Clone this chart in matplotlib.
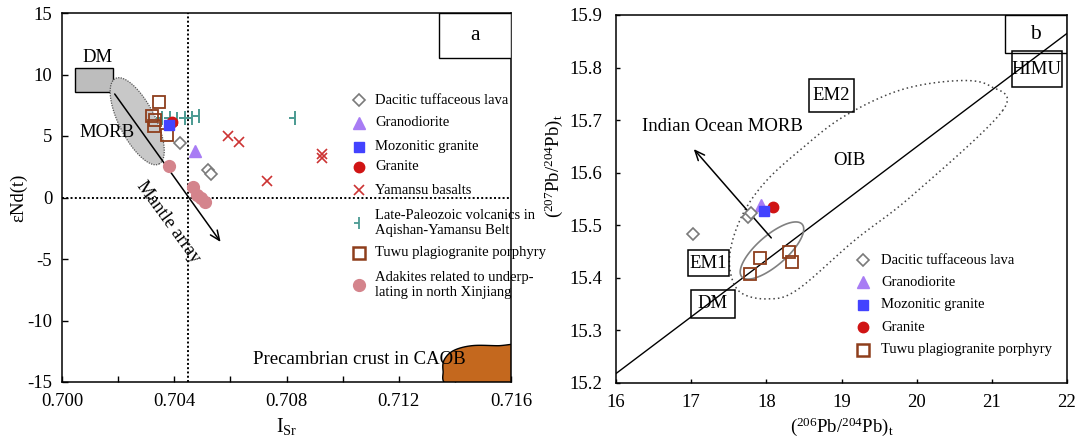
import numpy as np
import matplotlib
matplotlib.use("Agg")
import matplotlib.pyplot as plt
from matplotlib.path import Path
from matplotlib.patches import Polygon, Rectangle

plt.rcParams['font.family'] = ['Liberation Serif', 'DejaVu Serif']
plt.rcParams['mathtext.fontset'] = 'custom'
plt.rcParams['mathtext.rm'] = 'Liberation Serif'
plt.rcParams['mathtext.it'] = 'Liberation Serif:italic'
plt.rcParams['axes.unicode_minus'] = False

# ---------------- Panel a data ----------------
dac_a_isr = [0.70421, 0.70522, 0.70530]
dac_a_eps = [4.4, 2.2, 1.9]
gd_a_isr = [0.70475]
gd_a_eps = [3.8]
mz_a_isr = [0.70382]
mz_a_eps = [5.9]
gr_a_isr = [0.70393]
gr_a_eps = [6.1]
yam_isr = [0.70593, 0.70632, 0.70729, 0.70925, 0.70928]
yam_eps = [5.0, 4.5, 1.35, 3.2, 3.5]
lp_isr = [0.70357, 0.70386, 0.70411, 0.70439, 0.70464, 0.70489, 0.70829]
lp_eps = [6.5, 6.5, 6.4, 6.5, 6.5, 6.6, 6.5]
tuwu_a_isr = [0.70346, 0.70322, 0.70332, 0.70329, 0.70375]
tuwu_a_eps = [7.75, 6.6, 6.3, 5.8, 5.05]
adk_isr = [0.70380, 0.70468, 0.70482, 0.70495, 0.70508]
adk_eps = [2.55, 0.85, 0.2, 0.0, -0.35]

dm_box_a = [0.70046, 8.6, 0.70182, 10.5]          # x0, y0, x1, y1
morb_center = [0.70268, 6.2]
morb_axes_px = [48, 18, -63]                        # semi-major, semi-minor, angle
mantle_start = [0.70182, 8.6]
mantle_end = [0.70571, -3.8]
crust_x = [0.7168, 0.7155, 0.7146, 0.71395, 0.71362, 0.71358, 0.71372, 0.7150, 0.7168]
crust_y = [-12.15, -12.05, -12.05, -12.45, -13.2, -14.1, -15.2, -15.6, -15.5]

# ---------------- Panel b data ----------------
dac_b_x = [17.03, 17.76, 17.80]
dac_b_y = [15.484, 15.516, 15.524]
gd_b_x = [17.93]
gd_b_y = [15.539]
mz_b_x = [17.97]
mz_b_y = [15.527]
gr_b_x = [18.09]
gr_b_y = [15.534]
tuwu_b_x = [17.78, 17.92, 18.30, 18.34]
tuwu_b_y = [15.408, 15.438, 15.449, 15.430]

nhrl_x = [16, 22]
nhrl_y = [15.218, 15.865]
oib_x = [21.148, 19.951, 19.18, 18.408, 18.009, 17.650, 17.517, 17.543, 17.716,
         18.009, 18.448, 19.020, 19.778, 20.536, 20.975]
oib_y = [15.719, 15.558, 15.472, 15.377, 15.360, 15.373, 15.415, 15.467, 15.529,
         15.586, 15.643, 15.706, 15.757, 15.775, 15.765]
tuwu_field_center = [18.075, 15.452]
tuwu_field_px = [40, 15, 41]
iom_start = [18.09, 15.472]
iom_end = [17.01, 15.649]
reservoirs = ['EM2', 'HIMU', 'EM1', 'DM']
res_x = [18.867, 21.60, 17.23, 17.29]
res_y = [15.747, 15.797, 15.428, 15.351]
res_w = [0.60, 0.665, 0.545, 0.585]
res_h = [0.063, 0.068, 0.050, 0.053]

# colours
C_DAC = '#7a7a7a'
C_GD = '#a87cf4'
C_MZ = '#4343ff'
C_GR = '#d01414'
C_YAM = '#cc3333'
C_LP = '#4a9a92'
C_TUWU = '#8e3e1c'
C_ADK = '#d4848c'
C_CRUST = '#c4681e'

tee = Path([(-0.6, 0), (0, 0), (0, -0.7), (0, 0.7)],
           [Path.MOVETO, Path.LINETO, Path.MOVETO, Path.LINETO])


def closed_spline(xs, ys, n=25):
    P = np.column_stack([xs, ys]).astype(float)
    N = len(P)
    out = []
    t = np.linspace(0, 1, n, endpoint=False)[:, None]
    for i in range(N):
        p0, p1, p2, p3 = P[i - 1], P[i], P[(i + 1) % N], P[(i + 2) % N]
        out.append(0.5 * (2 * p1 + (-p0 + p2) * t + (2 * p0 - 5 * p1 + 4 * p2 - p3) * t ** 2
                          + (-p0 + 3 * p1 - 3 * p2 + p3) * t ** 3))
    return np.vstack(out)


def display_ellipse(ax, center, a, b, ang):
    c = ax.transData.transform(center)
    t = np.linspace(0, 2 * np.pi, 200)
    th = np.radians(ang)
    x = a * np.cos(t)
    y = b * np.sin(t)
    pts = np.column_stack([c[0] + x * np.cos(th) - y * np.sin(th),
                           c[1] + x * np.sin(th) + y * np.cos(th)])
    return ax.transData.inverted().transform(pts)


fig = plt.figure(figsize=(10.77, 4.45), dpi=100)
FS_BIG = 13.5
FS_LEG = 10.5

# =============== Panel a ===============
ax = fig.add_axes([62 / 1077, 1 - 382 / 445, 449 / 1077, 369 / 445])
ax.set_xlim(0.700, 0.716)
ax.set_ylim(-15, 15)
ax.set_xticks([0.700, 0.704, 0.708, 0.712, 0.716])
ax.set_xticklabels(['0.700', '0.704', '0.708', '0.712', '0.716'])
ax.set_xticks(np.arange(0.702, 0.716, 0.004), minor=True)
ax.set_yticks([-15, -10, -5, 0, 5, 10, 15])
ax.tick_params(which='both', direction='in', length=4.5, width=1, labelsize=FS_BIG)
ax.tick_params(axis='x', pad=8)
ax.tick_params(axis='y', pad=7)
for s in ax.spines.values():
    s.set_linewidth(1.1)
ax.set_xlabel(r'$\mathrm{I_{Sr}}$', fontsize=FS_BIG + 1, labelpad=4)
ax.set_ylabel('εNd(t)', fontsize=FS_BIG)
ax.yaxis.set_label_coords(-0.078, 0.5)

ax.axvline(0.7045, color='black', ls=(0, (1, 1.2)), lw=1.4, zorder=1)
ax.axhline(0, color='black', ls=(0, (1, 1.2)), lw=1.4, zorder=1)

ax.add_patch(Rectangle((dm_box_a[0], dm_box_a[1]), dm_box_a[2] - dm_box_a[0],
                       dm_box_a[3] - dm_box_a[1], facecolor='#bdbdbd',
                       edgecolor='black', lw=1, zorder=2))
ax.text(0.70125, 11.4, 'DM', fontsize=FS_BIG, ha='center', va='center')

ell = display_ellipse(ax, morb_center, *morb_axes_px)
ax.add_patch(Polygon(ell, closed=True, facecolor='#c8c8c8', edgecolor='#555555',
                     lw=0.9, ls=(0, (1, 1)), zorder=2))
ax.text(0.7016, 5.3, 'MORB', fontsize=FS_BIG, ha='center', va='center', zorder=3)

ax.annotate('', xy=mantle_end, xytext=mantle_start,
            arrowprops=dict(arrowstyle='->,head_length=0.7,head_width=0.3',
                            color='black', lw=1.1), zorder=3)
ax.text(0.70378, -2.0, 'Mantle array', fontsize=FS_BIG, rotation=-54,
        ha='center', va='center', rotation_mode='anchor')

crust = closed_spline(crust_x, crust_y)
ax.add_patch(Polygon(crust, closed=True, facecolor=C_CRUST, edgecolor='black',
                     lw=1, zorder=2, clip_on=True))
ax.text(0.7106, -13.2, 'Precambrian crust in CAOB', fontsize=FS_BIG,
        ha='center', va='center', zorder=4)

# points
ax.plot(adk_isr, adk_eps, 'o', ms=8.5, color=C_ADK, mec=C_ADK, zorder=4)
ax.plot(lp_isr, lp_eps, marker=tee, ls='none', ms=10.5, color=C_LP, mew=1.4, zorder=4)
ax.plot(tuwu_a_isr, tuwu_a_eps, 's', ms=8.5, mfc='none', mec=C_TUWU, mew=1.3, zorder=5)
ax.plot(gr_a_isr, gr_a_eps, 'o', ms=7.5, color=C_GR, zorder=5)
ax.plot(mz_a_isr, mz_a_eps, 's', ms=7.5, color=C_MZ, zorder=6)
ax.plot(gd_a_isr, gd_a_eps, '^', ms=8.5, color=C_GD, zorder=5)
ax.plot(dac_a_isr, dac_a_eps, 'D', ms=6, mfc='white', mec=C_DAC, mew=1.2, zorder=5)
ax.plot(yam_isr, yam_eps, 'x', ms=7.5, color=C_YAM, mew=1.2, zorder=5)

# 'a' label box
ax.add_patch(Rectangle((0.84, 0.878), 0.16, 0.122, transform=ax.transAxes,
                       facecolor='white', edgecolor='black', lw=1, zorder=6))
ax.text(0.92, 0.939, 'a', transform=ax.transAxes, fontsize=FS_BIG + 2,
        ha='center', va='center', zorder=7)

# legend a (manual)
mx, tx = 0.661, 0.697
leg_a = [
    (0.764, dict(marker='D', ms=6, mfc='white', mec=C_DAC, mew=1.2), 'Dacitic tuffaceous lava'),
    (0.702, dict(marker='^', ms=8.5, color=C_GD), 'Granodiorite'),
    (0.637, dict(marker='s', ms=7.5, color=C_MZ), 'Mozonitic granite'),
    (0.583, dict(marker='o', ms=7.5, color=C_GR), 'Granite'),
    (0.520, dict(marker='x', ms=7.5, color=C_YAM, mew=1.2), 'Yamansu basalts'),
    (0.431, dict(marker=tee, ms=9, color=C_LP, mew=1.3), 'Late-Paleozoic volcanics in\nAqishan-Yamansu Belt'),
    (0.350, dict(marker='s', ms=8.5, mfc='none', mec=C_TUWU, mew=1.8), 'Tuwu plagiogranite porphyry'),
    (0.263, dict(marker='o', ms=8.5, color=C_ADK), 'Adakites related to underp-\nlating in north Xinjiang'),
]
for y, kw, lab in leg_a:
    ax.plot([mx], [y], transform=ax.transAxes, ls='none', clip_on=False, zorder=6, **kw)
    ax.text(tx, y, lab, transform=ax.transAxes, fontsize=FS_LEG, ha='left',
            va='center', linespacing=1.15, zorder=6)

# =============== Panel b ===============
bx = fig.add_axes([616 / 1077, 1 - 383 / 445, 451 / 1077, 368 / 445])
bx.set_xlim(16, 22)
bx.set_ylim(15.2, 15.9)
bx.set_xticks(range(16, 23))
bx.set_yticks(np.round(np.arange(15.2, 15.91, 0.1), 1))
bx.set_yticklabels(['%.1f' % v for v in np.arange(15.2, 15.91, 0.1)])
bx.tick_params(which='both', direction='in', length=3, width=1, labelsize=FS_BIG)
bx.tick_params(axis='x', pad=8)
bx.tick_params(axis='y', pad=10)
for s in bx.spines.values():
    s.set_linewidth(1.1)
bx.set_xlabel(r'$(^{206}\mathrm{Pb}/^{204}\mathrm{Pb})_{\mathrm{t}}$', fontsize=FS_BIG, labelpad=3)
bx.set_ylabel(r'$(^{207}\mathrm{Pb}/^{204}\mathrm{Pb})_{\mathrm{t}}$', fontsize=FS_BIG)
bx.yaxis.set_label_coords(-0.112, 0.59)

bx.plot(nhrl_x, nhrl_y, color='black', lw=1.0, zorder=2)
oib = closed_spline(oib_x, oib_y)
bx.add_patch(Polygon(oib, closed=True, facecolor='none', edgecolor='#444444',
                     lw=1.1, ls=(0, (1, 2)), zorder=2))
bx.text(19.11, 15.624, 'OIB', fontsize=FS_BIG, ha='center', va='center')
tf = display_ellipse(bx, tuwu_field_center, *tuwu_field_px)
bx.add_patch(Polygon(tf, closed=True, facecolor='none', edgecolor='#808080',
                     lw=1.2, zorder=2))
bx.annotate('', xy=iom_end, xytext=iom_start,
            arrowprops=dict(arrowstyle='->,head_length=0.7,head_width=0.3',
                            color='black', lw=1.1), zorder=3)
bx.text(17.41, 15.687, 'Indian Ocean MORB', fontsize=FS_BIG, ha='center', va='center')
for name, x, y, w, h in zip(reservoirs, res_x, res_y, res_w, res_h):
    bx.add_patch(Rectangle((x - w / 2, y - h / 2), w, h, facecolor='none',
                           edgecolor='black', lw=1.1, zorder=4))
    bx.text(x, y, name, fontsize=FS_BIG, ha='center', va='center', zorder=4)

bx.plot(tuwu_b_x, tuwu_b_y, 's', ms=8.5, mfc='none', mec=C_TUWU, mew=1.3, zorder=5)
bx.plot(gd_b_x, gd_b_y, '^', ms=8.5, color=C_GD, zorder=5)
bx.plot(gr_b_x, gr_b_y, 'o', ms=7.5, color=C_GR, zorder=5)
bx.plot(mz_b_x, mz_b_y, 's', ms=7, color=C_MZ, zorder=6)
bx.plot(dac_b_x, dac_b_y, 'D', ms=6, mfc='white', mec=C_DAC, mew=1.2, zorder=5)

bx.add_patch(Rectangle((0.8625, 0.897), 0.1375, 0.103, transform=bx.transAxes,
                       facecolor='none', edgecolor='black', lw=1, zorder=6))
bx.text(0.931, 0.948, 'b', transform=bx.transAxes, fontsize=FS_BIG + 2,
        ha='center', va='center', zorder=7)

mx, tx = 0.548, 0.588
leg_b = [
    (0.334, dict(marker='D', ms=6, mfc='white', mec=C_DAC, mew=1.2), 'Dacitic tuffaceous lava'),
    (0.274, dict(marker='^', ms=8.5, color=C_GD), 'Granodiorite'),
    (0.212, dict(marker='s', ms=7.5, color=C_MZ), 'Mozonitic granite'),
    (0.152, dict(marker='o', ms=7.5, color=C_GR), 'Granite'),
    (0.090, dict(marker='s', ms=8.5, mfc='none', mec=C_TUWU, mew=1.8), 'Tuwu plagiogranite porphyry'),
]
for y, kw, lab in leg_b:
    bx.plot([mx], [y], transform=bx.transAxes, ls='none', clip_on=False, zorder=6, **kw)
    bx.text(tx, y, lab, transform=bx.transAxes, fontsize=FS_LEG, ha='left',
            va='center', zorder=6)

fig.savefig('out.png', dpi=100)
